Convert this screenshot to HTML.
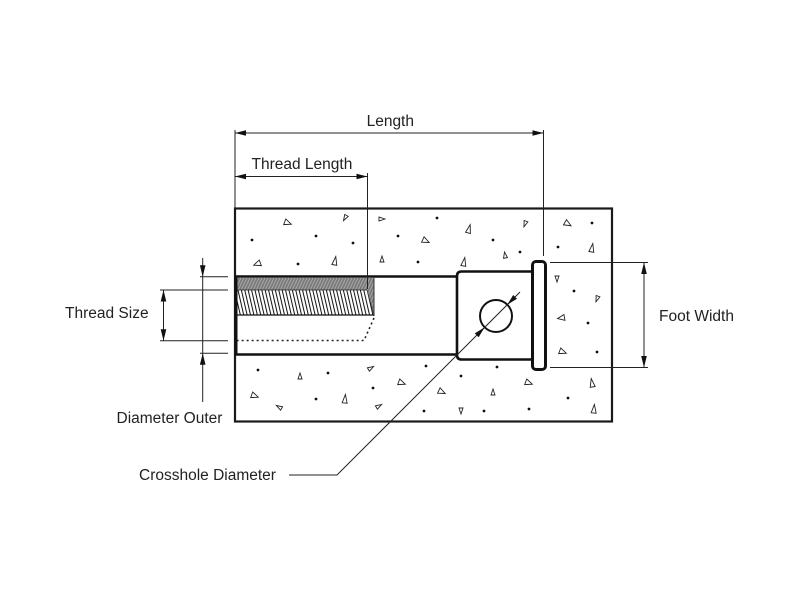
<!DOCTYPE html>
<html><head><meta charset="utf-8"><style>
html,body{margin:0;padding:0;background:#fff;}
svg{display:block;}
text{font-family:"Liberation Sans",Arial,sans-serif;font-size:15.5px;fill:#222;}
</style></head><body>
<svg width="800" height="600" viewBox="0 0 800 600" xmlns="http://www.w3.org/2000/svg">
<defs>
  <pattern id="teeth" patternUnits="userSpaceOnUse" width="3.4" height="10" patternTransform="skewX(13)">
    <rect width="3.4" height="10" fill="#fff"/>
    <line x1="1" y1="0" x2="1" y2="10" stroke="#111" stroke-width="1.05"/>
  </pattern>
  <pattern id="gray" patternUnits="userSpaceOnUse" width="3" height="10" patternTransform="skewX(-25)">
    <rect width="3" height="10" fill="#7a7a7a"/>
    <line x1="1.5" y1="0" x2="1.5" y2="10" stroke="#b0b0b0" stroke-width="0.9"/>
  </pattern>
  <polygon id="t1" points="-3.5,-3 3.5,0 -3.5,3" fill="none" stroke="#222" stroke-width="0.9"/>
  <polygon id="t2" points="0,-4.5 2.5,4 -2.5,4" fill="none" stroke="#222" stroke-width="0.9"/>
  <polygon id="t3" points="0,-3 2,3 -2,3" fill="none" stroke="#222" stroke-width="0.9"/>
</defs>

<!-- concrete block -->
<rect x="235" y="208.5" width="377" height="213" fill="#fff" stroke="#1a1a1a" stroke-width="2.2"/>

<!-- dots -->
<g fill="#111">
  <circle cx="252" cy="240" r="1.4"/><circle cx="316" cy="236" r="1.4"/><circle cx="353" cy="243" r="1.4"/>
  <circle cx="298" cy="264" r="1.4"/><circle cx="437" cy="218" r="1.4"/><circle cx="398" cy="236" r="1.4"/>
  <circle cx="493" cy="240" r="1.4"/><circle cx="520" cy="252" r="1.4"/><circle cx="418" cy="262" r="1.4"/>
  <circle cx="558" cy="247" r="1.4"/><circle cx="592" cy="223" r="1.4"/><circle cx="574" cy="291" r="1.4"/>
  <circle cx="588" cy="323" r="1.4"/><circle cx="597" cy="352" r="1.4"/><circle cx="426" cy="366" r="1.4"/>
  <circle cx="461" cy="376" r="1.4"/><circle cx="497" cy="367" r="1.4"/><circle cx="568" cy="398" r="1.4"/>
  <circle cx="424" cy="411" r="1.4"/><circle cx="484" cy="411" r="1.4"/><circle cx="529" cy="409" r="1.4"/>
  <circle cx="258" cy="370" r="1.4"/><circle cx="328" cy="373" r="1.4"/><circle cx="373" cy="388" r="1.4"/>
  <circle cx="316" cy="399" r="1.4"/>
</g>
<!-- triangles -->
<use href="#t1" transform="translate(288,223) rotate(20)"/>
<use href="#t3" transform="translate(345,218) rotate(-150)"/>
<use href="#t1" transform="translate(257,264) rotate(160)"/>
<use href="#t2" transform="translate(335,261) rotate(10)"/>
<use href="#t3" transform="translate(382,219) rotate(90)"/>
<use href="#t1" transform="translate(426,241) rotate(25)"/>
<use href="#t2" transform="translate(469,229) rotate(15)"/>
<use href="#t3" transform="translate(525,224) rotate(200)"/>
<use href="#t3" transform="translate(505,255) rotate(-10)"/>
<use href="#t3" transform="translate(382,259) rotate(0)"/>
<use href="#t2" transform="translate(464,262) rotate(10)"/>
<use href="#t1" transform="translate(568,224) rotate(30)"/>
<use href="#t2" transform="translate(592,248) rotate(10)"/>
<use href="#t3" transform="translate(557,279) rotate(180)"/>
<use href="#t3" transform="translate(597,299) rotate(200)"/>
<use href="#t1" transform="translate(561,318) rotate(170)"/>
<use href="#t1" transform="translate(563,352) rotate(20)"/>
<use href="#t1" transform="translate(529,383) rotate(20)"/>
<use href="#t1" transform="translate(442,392) rotate(25)"/>
<use href="#t3" transform="translate(493,392) rotate(0)"/>
<use href="#t2" transform="translate(592,383) rotate(-10)"/>
<use href="#t3" transform="translate(461,411) rotate(180)"/>
<use href="#t2" transform="translate(594,409) rotate(5)"/>
<use href="#t3" transform="translate(300,376) rotate(0)"/>
<use href="#t3" transform="translate(371,368) rotate(60)"/>
<use href="#t1" transform="translate(402,383) rotate(20)"/>
<use href="#t1" transform="translate(255,396) rotate(20)"/>
<use href="#t3" transform="translate(279,407) rotate(-60)"/>
<use href="#t2" transform="translate(345,399) rotate(5)"/>
<use href="#t3" transform="translate(379,406) rotate(60)"/>

<!-- bore -->
<rect x="236" y="276.5" width="222" height="78" fill="#fff"/>
<line x1="235" y1="276.5" x2="458" y2="276.5" stroke="#111" stroke-width="2.6"/>
<line x1="235" y1="354.5" x2="458" y2="354.5" stroke="#111" stroke-width="2.6"/>
<line x1="236" y1="276" x2="236" y2="355" stroke="#111" stroke-width="3"/>

<!-- thread -->
<polygon points="237.5,278 374,278 374,316 367,290 237.5,290" fill="url(#gray)"/>
<polygon points="237.5,290 367,290 374,315 237.5,315" fill="url(#teeth)"/>
<line x1="237" y1="290" x2="367" y2="290" stroke="#222" stroke-width="0.8"/>
<line x1="367" y1="290" x2="374" y2="315" stroke="#444" stroke-width="0.7"/>
<line x1="374" y1="278" x2="374" y2="316" stroke="#333" stroke-width="1"/>
<line x1="237" y1="315" x2="374.5" y2="315" stroke="#111" stroke-width="1.3"/>
<polyline points="374,318 364,340.5 237,340.5" fill="none" stroke="#222" stroke-width="1.6" stroke-dasharray="2 3"/>

<!-- head -->
<path d="M457,276 Q457,271.5 461.5,271.5 H533 V359.5 H461.5 Q457,359.5 457,355 Z" fill="#fff" stroke="#111" stroke-width="2.6"/>
<!-- foot -->
<rect x="532.5" y="261.5" width="13" height="108" rx="3.5" fill="#fff" stroke="#111" stroke-width="3"/>
<!-- crosshole -->
<circle cx="496" cy="316" r="16" fill="none" stroke="#111" stroke-width="2"/>

<!-- thin lines -->
<g stroke="#222" stroke-width="1" fill="none">
  <line x1="235" y1="130" x2="235" y2="208"/>
  <line x1="543.5" y1="130" x2="543.5" y2="256"/>
  <line x1="235" y1="133" x2="543.5" y2="133"/>
  <line x1="367.5" y1="173" x2="367.5" y2="289"/>
  <line x1="235" y1="176.5" x2="367.5" y2="176.5"/>
  <line x1="200" y1="276.7" x2="228" y2="276.7"/>
  <line x1="160" y1="290" x2="228" y2="290"/>
  <line x1="160" y1="340.7" x2="228" y2="340.7"/>
  <line x1="200" y1="353.3" x2="228" y2="353.3"/>
  <line x1="163.5" y1="290" x2="163.5" y2="340.7"/>
  <line x1="202.7" y1="258" x2="202.7" y2="402"/>
  <line x1="550" y1="262.5" x2="648" y2="262.5"/>
  <line x1="550" y1="367.5" x2="648" y2="367.5"/>
  <line x1="644" y1="262.5" x2="644" y2="367.5"/>
  <polyline points="289,475 337,475 520,292"/>
</g>

<!-- arrowheads -->
<g fill="#111">
  <polygon points="235,133 246,130.2 246,135.8"/>
  <polygon points="543.5,133 532.5,130.2 532.5,135.8"/>
  <polygon points="235,176.5 246,173.7 246,179.3"/>
  <polygon points="367.5,176.5 356.5,173.7 356.5,179.3"/>
  <polygon points="163.5,290 160.7,301.5 166.3,301.5"/>
  <polygon points="163.5,340.7 160.7,329.2 166.3,329.2"/>
  <polygon points="202.7,276.7 199.9,265.2 205.5,265.2"/>
  <polygon points="202.7,353.3 199.9,364.8 205.5,364.8"/>
  <polygon points="644,262.5 641.2,274 646.8,274"/>
  <polygon points="644,367.5 641.2,356 646.8,356"/>
  <polygon points="484.7,327.3 478.6,337.2 474.8,333.4"/>
  <polygon points="507.3,304.7 517,298.8 513.2,295"/>
</g>

<!-- labels -->
<text x="390.3" y="126" text-anchor="middle">Length</text>
<text x="251.5" y="169">Thread Length</text>
<text x="65" y="318">Thread Size</text>
<text x="116.5" y="423">Diameter Outer</text>
<text x="139" y="480">Crosshole Diameter</text>
<text x="659" y="321">Foot Width</text>
</svg>
</body></html>
